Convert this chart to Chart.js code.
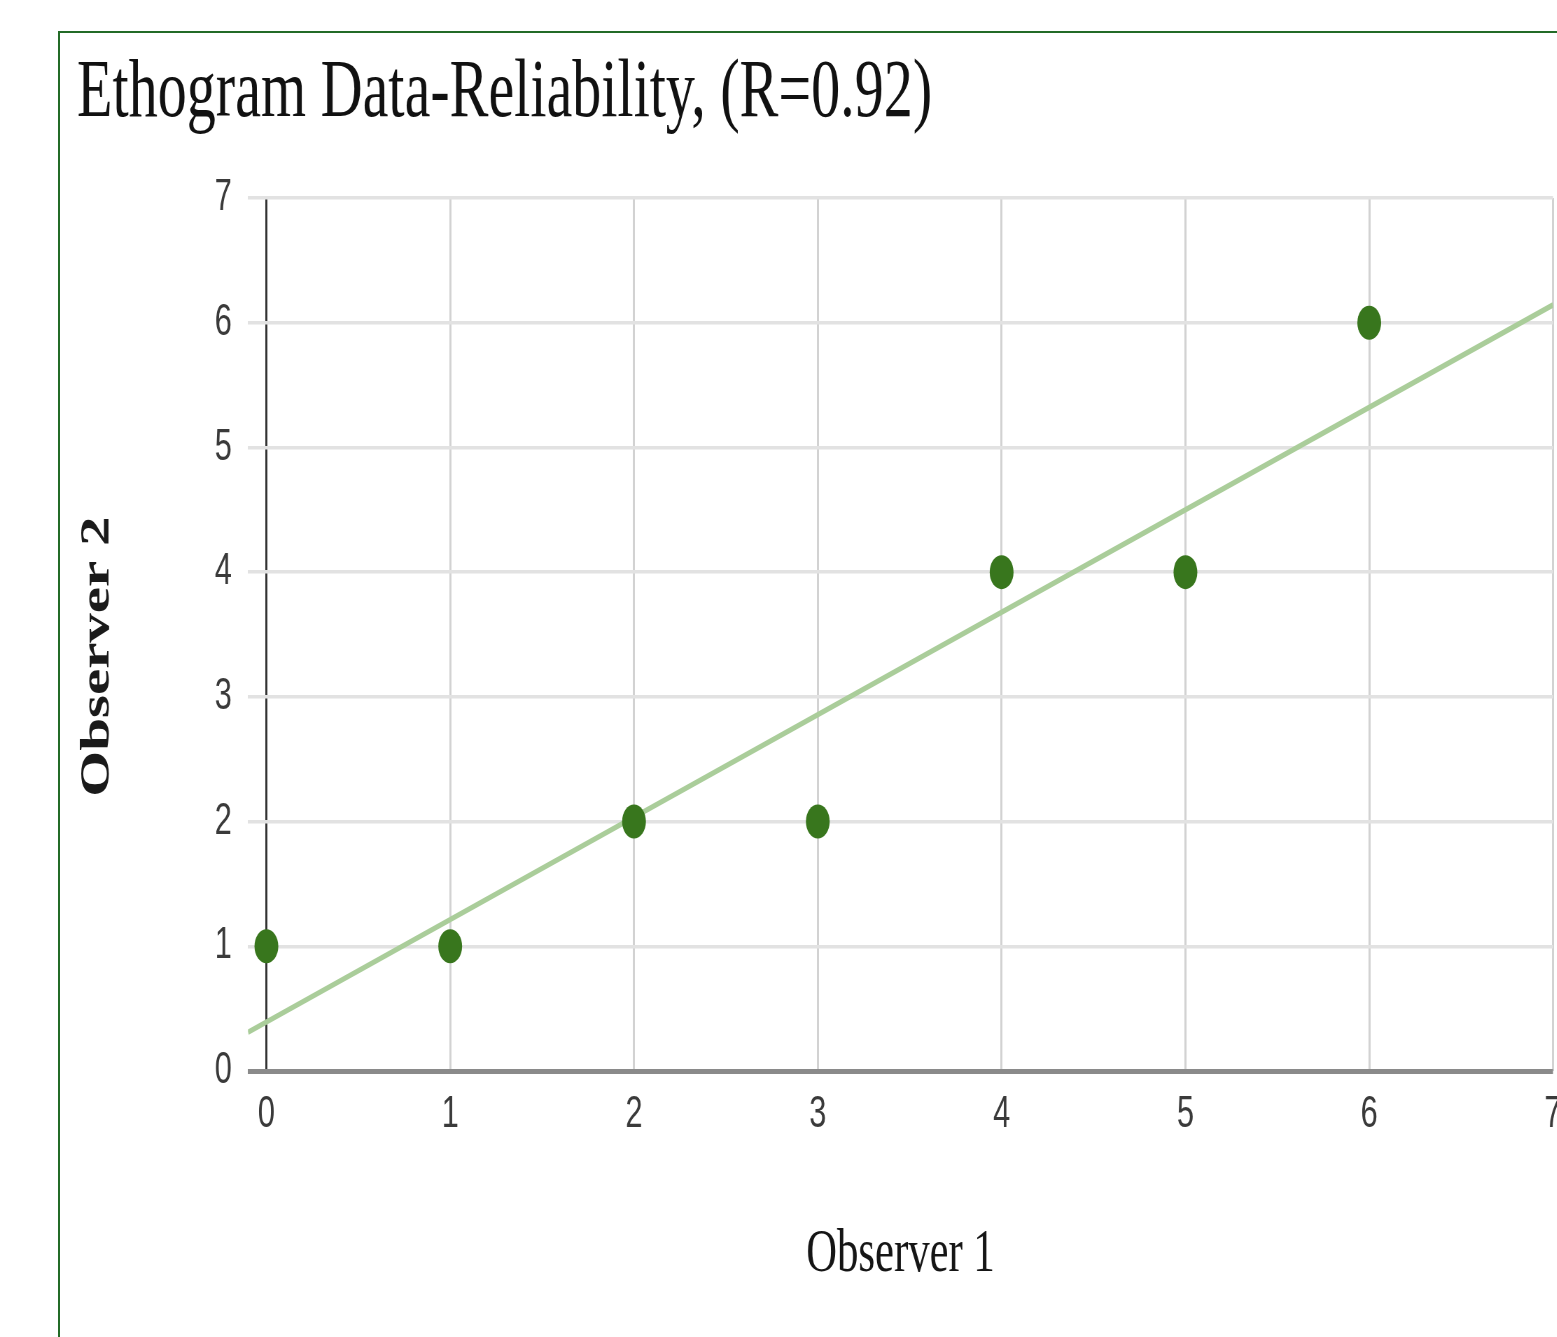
<!DOCTYPE html>
<html>
<head>
<meta charset="utf-8">
<script src="https://cdn.jsdelivr.net/npm/chart.js@4/dist/chart.umd.min.js"></script>
<style>
html,body{margin:0;padding:0;background:#fff;overflow:hidden;width:1557px;height:1337px;position:relative;}
#frame{position:absolute;left:58px;top:31px;width:1600px;height:1400px;border-left:2px solid #236b27;border-top:2px solid #236b27;}
#wrap{position:absolute;left:0;top:0;width:2260px;height:1337px;transform:scaleX(0.7);transform-origin:0 0;}
</style>
</head>
<body>
<div id="frame"></div>
<div id="wrap"><canvas id="c" width="2260" height="1337"></canvas></div>
<script>
// ---- data ----
const chartTitle = 'Ethogram Data-Reliability, (R=0.92)';
const xAxisTitle = 'Observer 1';
const yAxisTitle = 'Observer 2';
const observer1 = [0, 1, 2, 3, 4, 5, 6];
const observer2 = [1, 1, 2, 2, 4, 4, 6];
const xTickValues = [0, 1, 2, 3, 4, 5, 6, 7];
const yTickValues = [0, 1, 2, 3, 4, 5, 6, 7];
const xRange = [-0.1, 7];
const yRange = [0, 7];

// least-squares trendline from the data
const n = observer1.length;
const mx = observer1.reduce((a, b) => a + b, 0) / n;
const my = observer2.reduce((a, b) => a + b, 0) / n;
let sxy = 0, sxx = 0;
for (let i = 0; i < n; i++) { sxy += (observer1[i] - mx) * (observer2[i] - my); sxx += (observer1[i] - mx) ** 2; }
const slope = sxy / sxx, intercept = my - slope * mx;
const trendPoints = xRange.map(x => ({ x: x, y: intercept + slope * x }));
const scatterPoints = observer1.map((x, i) => ({ x: x, y: observer2[i] }));

new Chart(document.getElementById('c'), {
  data: {
    datasets: [
      {
        type: 'scatter',
        data: scatterPoints,
        backgroundColor: '#38761d',
        borderWidth: 0,
        pointRadius: 17,
        pointHoverRadius: 17,
        order: 0
      },
      {
        type: 'line',
        data: trendPoints,
        borderColor: '#aacd9a',
        borderWidth: 5.5,
        pointRadius: 0,
        fill: false,
        order: 1
      }
    ]
  },
  options: {
    responsive: false,
    animation: false,
    devicePixelRatio: 1,
    layout: { autoPadding: false, padding: { left: 110, right: 41.4, top: 0, bottom: 45 } },
    plugins: {
      legend: { display: false },
      tooltip: { enabled: false },
      title: {
        display: true,
        text: chartTitle,
        align: 'start',
        color: '#111',
        font: { family: 'Liberation Serif', size: 83, weight: 'normal', lineHeight: 1.2 },
        padding: { top: 44, bottom: 54.4 }
      }
    },
    scales: {
      x: {
        type: 'linear',
        position: 'bottom',
        min: xRange[0],
        max: xRange[1],
        afterBuildTicks: s => { s.ticks = xTickValues.map(v => ({ value: v })); },
        afterFit: s => { s.height = 221; s.paddingLeft = 0; s.paddingRight = 0; },
        border: { display: false },
        grid: {
          drawTicks: false,
          color: c => (c.tick && c.tick.value === 0) ? '#333333' : '#d2d2d2',
          lineWidth: 3
        },
        ticks: {
          padding: 17,
          color: '#3a3a3a',
          font: { family: 'Liberation Sans', size: 44, lineHeight: 1.2 },
          callback: v => String(v)
        },
        title: {
          display: true,
          text: xAxisTitle,
          color: '#151515',
          font: { family: 'Liberation Serif', size: 61, lineHeight: 1.2 },
          padding: 0
        }
      },
      y: {
        type: 'linear',
        min: yRange[0],
        max: yRange[1],
        afterBuildTicks: s => { s.ticks = yTickValues.map(v => ({ value: v })); },
        afterFit: s => { s.width = 244.3; },
        border: { display: false },
        grid: {
          drawTicks: false,
          color: c => (c.tick && c.tick.value === 0) ? '#8a8a8a' : '#e2e2e2',
          lineWidth: c => (c.tick && c.tick.value === 0) ? 5 : 3.5
        },
        ticks: {
          padding: 23,
          color: '#3a3a3a',
          font: { family: 'Liberation Sans', size: 44, lineHeight: 1.2 },
          callback: v => String(v)
        },
        title: {
          display: true,
          text: yAxisTitle + '   ',
          color: '#1a1a1a',
          font: { family: 'Liberation Serif', size: 59, weight: 'bold', lineHeight: 1 },
          padding: { top: 0.5, bottom: 0 }
        }
      }
    }
  }
});
</script>
</body>
</html>
